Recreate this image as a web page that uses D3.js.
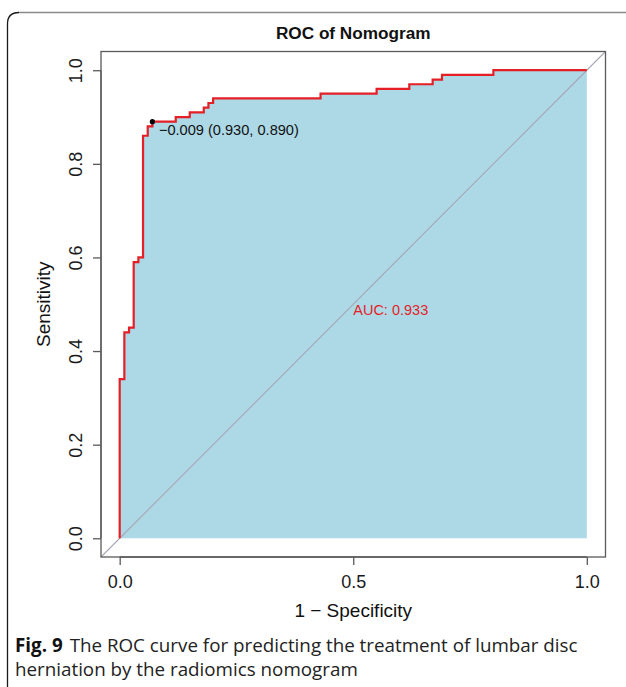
<!DOCTYPE html>
<html>
<head>
<meta charset="utf-8">
<script src="https://cdn.jsdelivr.net/npm/d3@7"></script>
<style>
  html, body { margin: 0; padding: 0; background: #fff; }
  svg { display: block; }
</style>
</head>
<body>
<svg id="chart" width="626" height="687"></svg>
<script>
// ROC curve of the nomogram: false positive rate (1 - specificity) vs sensitivity
const fpr = [0, 0, 0.01, 0.01, 0.02, 0.02, 0.03, 0.03, 0.04, 0.04, 0.05, 0.05, 0.06, 0.06, 0.07, 0.07,
             0.12, 0.12, 0.15, 0.15, 0.18, 0.18, 0.19, 0.19, 0.20, 0.20, 0.43, 0.43, 0.55, 0.55,
             0.62, 0.62, 0.67, 0.67, 0.69, 0.69, 0.80, 0.80, 1.00];
const tpr = [0, 0.34, 0.34, 0.44, 0.44, 0.45, 0.45, 0.59, 0.59, 0.60, 0.60, 0.86, 0.86, 0.88, 0.88, 0.89,
             0.89, 0.90, 0.90, 0.91, 0.91, 0.92, 0.92, 0.93, 0.93, 0.94, 0.94, 0.95, 0.95, 0.96,
             0.96, 0.97, 0.97, 0.98, 0.98, 0.99, 0.99, 1.00, 1.00];

// best threshold point
const bestThreshold = -0.009;
const bestSpecificity = 0.930;
const bestSensitivity = 0.890;
const aucValue = 0.933;

const xTicks = [0, 0.5, 1];
const yTicks = [0, 0.2, 0.4, 0.6, 0.8, 1.0];

const titleText = "ROC of Nomogram";
const xLabel = "1 \u2212 Specificity";
const yLabel = "Sensitivity";
const captionBold = "Fig. 9";
const captionLine1 = "The ROC curve for predicting the treatment of lumbar disc";
const captionLine2 = "herniation by the radiomics nomogram";

const svg = d3.select("#chart");
const plotFont = "'Liberation Sans', Arial, Helvetica, sans-serif";
const capFont = "'Open Sans', 'Noto Sans', sans-serif";

// figure frame (rounded corner at top-left)
svg.append("path")
  .attr("d", "M7.5,687 V24 Q7.5,12.5 19,12.5")
  .attr("fill", "none").attr("stroke", "#1a1a1a").attr("stroke-width", 1.3);
svg.append("path")
  .attr("d", "M19,12.5 H626")
  .attr("fill", "none").attr("stroke", "#8a8a8a").attr("stroke-width", 1.3);

// scales with 4% padding like base R graphics
const x = d3.scaleLinear().domain([-0.04, 1.04]).range([101, 605.5]);
const y = d3.scaleLinear().domain([-0.04, 1.04]).range([557, 51.5]);

// AUC polygon
const curvePts = fpr.map((d, i) => [d, tpr[i]]);
const polyPts = curvePts.concat([[1, 0], [0, 0]]);
svg.append("path")
  .attr("d", d3.line().x(d => x(d[0])).y(d => y(d[1]))(polyPts) + "Z")
  .attr("fill", "#add8e6").attr("stroke", "none");

// identity diagonal across the whole plot region
svg.append("line")
  .attr("x1", x(-0.04)).attr("y1", y(-0.04))
  .attr("x2", x(1.04)).attr("y2", y(1.04))
  .attr("stroke", "#a6a6b4").attr("stroke-width", 1.1);

// ROC curve
svg.append("path")
  .attr("d", d3.line().x(d => x(d[0])).y(d => y(d[1]))(curvePts))
  .attr("fill", "none").attr("stroke", "#e41f26").attr("stroke-width", 2.2)
  .attr("stroke-linejoin", "miter");

// plot box
svg.append("rect")
  .attr("x", x(-0.04)).attr("y", y(1.04))
  .attr("width", x(1.04) - x(-0.04)).attr("height", y(-0.04) - y(1.04))
  .attr("fill", "none").attr("stroke", "#5a5a5a").attr("stroke-width", 1.3);

// x axis
const xAxis = d3.axisBottom(x).tickValues(xTicks).tickFormat(d3.format(".1f"))
  .tickSize(8).tickPadding(6);
const gx = svg.append("g").attr("transform", `translate(0,${y(-0.04)})`).call(xAxis);
gx.select(".domain").attr("d", `M${x(0)},0H${x(1)}`).attr("stroke", "#5a5a5a").attr("stroke-width", 1.3);
gx.selectAll(".tick line").attr("stroke", "#5a5a5a").attr("stroke-width", 1.3);
gx.selectAll(".tick text").attr("font-family", plotFont).attr("font-size", 18)
  .attr("fill", "#1a1a1a").attr("dy", null).attr("y", 30.5);

// y axis with rotated labels
const yAxis = d3.axisLeft(y).tickValues(yTicks).tickFormat(d3.format(".1f"))
  .tickSize(8).tickPadding(6);
const gy = svg.append("g").attr("transform", `translate(${x(-0.04)},0)`).call(yAxis);
gy.select(".domain").attr("d", `M0,${y(0)}V${y(1)}`).attr("stroke", "#5a5a5a").attr("stroke-width", 1.3);
gy.selectAll(".tick line").attr("stroke", "#5a5a5a").attr("stroke-width", 1.3);
gy.selectAll(".tick text")
  .attr("font-family", plotFont).attr("font-size", 18).attr("fill", "#1a1a1a")
  .attr("x", null).attr("dy", null)
  .attr("text-anchor", "middle")
  .attr("transform", "translate(-19,0) rotate(-90)");

// title
svg.append("text")
  .attr("x", (x(-0.04) + x(1.04)) / 2).attr("y", 39)
  .attr("text-anchor", "middle").attr("font-family", plotFont)
  .attr("font-weight", "bold").attr("font-size", 17.2).attr("fill", "#111")
  .text(titleText);

// axis titles
svg.append("text")
  .attr("x", x(0.5)).attr("y", 617)
  .attr("text-anchor", "middle").attr("font-family", plotFont)
  .attr("font-size", 19).attr("fill", "#111")
  .text(xLabel);
svg.append("text")
  .attr("transform", `translate(50,${y(0.5)}) rotate(-90)`)
  .attr("text-anchor", "middle").attr("font-family", plotFont)
  .attr("font-size", 19).attr("fill", "#111")
  .text(yLabel);

// best threshold point and label
const bx = 1 - bestSpecificity, by = bestSensitivity;
svg.append("circle")
  .attr("cx", x(bx)).attr("cy", y(by)).attr("r", 2.6).attr("fill", "#000");
svg.append("text")
  .attr("x", x(bx) + 6.5).attr("y", y(by) + 13.5)
  .attr("font-family", plotFont).attr("font-size", 14.6).attr("fill", "#111")
  .text(`${d3.format(".3f")(bestThreshold).replace("-", "\u2212")} (${d3.format(".3f")(bestSpecificity)}, ${d3.format(".3f")(bestSensitivity)})`);

// AUC label
svg.append("text")
  .attr("x", x(0.5)).attr("y", y(0.5) + 11)
  .attr("font-family", plotFont).attr("font-size", 14.5).attr("fill", "#e41f26")
  .text(`AUC: ${d3.format(".3f")(aucValue)}`);

// figure caption
const cap1 = svg.append("text")
  .attr("x", 15).attr("y", 652)
  .attr("font-family", capFont).attr("font-size", 18.8).attr("fill", "#222");
cap1.append("tspan").attr("font-weight", "bold").attr("fill", "#111").text(captionBold);
cap1.append("tspan").attr("dx", 7).text(captionLine1);
svg.append("text")
  .attr("x", 15).attr("y", 676)
  .attr("font-family", capFont).attr("font-size", 18.8).attr("fill", "#222")
  .text(captionLine2);
</script>
</body>
</html>
